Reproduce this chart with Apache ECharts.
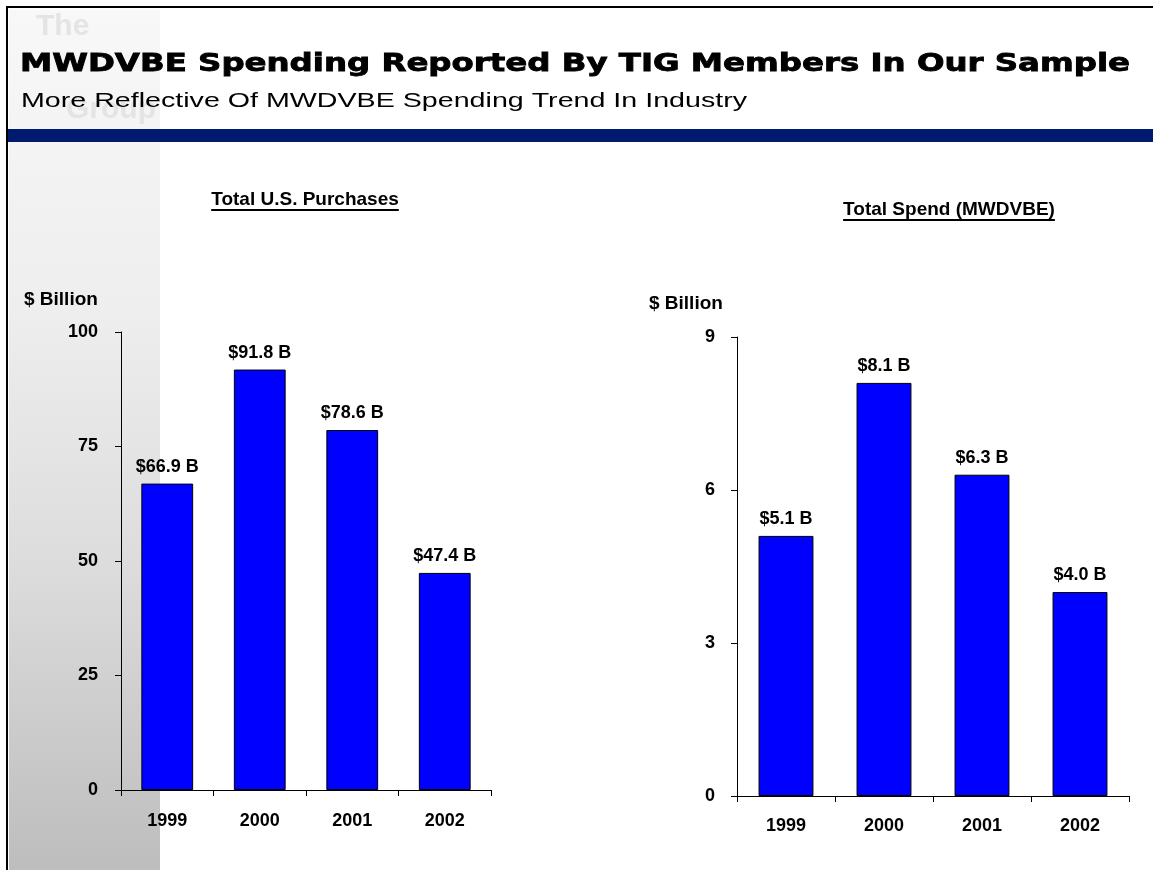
<!DOCTYPE html>
<html>
<head>
<meta charset="utf-8">
<script src="https://cdn.jsdelivr.net/npm/echarts@6/dist/echarts.min.js"></script>
<style>
  html, body { margin: 0; padding: 0; background: #ffffff; }
  #chart { width: 1153px; height: 870px; }
</style>
</head>
<body>
<div id="chart"></div>
<script>
// ---- data ----
const years = ['1999', '2000', '2001', '2002'];
const totalPurchases = [66.9, 91.8, 78.6, 47.4];   // $ billion
const totalSpend = [5.1, 8.1, 6.3, 4.0];          // $ billion (MWDVBE)
const purchaseScale = { min: 0, max: 100, interval: 25 };
const spendScale = { min: 0, max: 9, interval: 3 };

const mainTitle = 'MWDVBE Spending Reported By TIG Members In Our Sample';
const subTitle = 'More Reflective Of MWDVBE Spending Trend In Industry';
const leftTitle = 'Total U.S. Purchases';
const rightTitle = 'Total Spend (MWDVBE)';
const unitLabel = '$ Billion';

// ---- helpers ----
const FONT = '"Liberation Sans", Arial, Helvetica, sans-serif';
const TITLE_FONT = '"DejaVu Sans", "Liberation Sans", Arial, sans-serif';
const LOGO_FONT = 'bold 30px "Liberation Sans Narrow", "Liberation Sans", Arial, sans-serif';
const ctx = document.createElement('canvas').getContext('2d');
function textWidth(str, font) { ctx.font = font; return ctx.measureText(str).width; }

const titleSize = 24, subSize = 20, labelSize = 18, headSize = 19;
const titleScale = 1110 / textWidth(mainTitle, 'bold ' + titleSize + 'px ' + TITLE_FONT);
const subScale = 726 / textWidth(subTitle, subSize + 'px ' + FONT);
const leftTitleW = textWidth(leftTitle, 'bold ' + headSize + 'px ' + FONT);
const rightTitleW = textWidth(rightTitle, 'bold ' + headSize + 'px ' + FONT);

const moneyLabel = p => '$' + p.value.toFixed(1) + ' B';

function barSeries(values, idx) {
  return {
    type: 'bar',
    xAxisIndex: idx,
    yAxisIndex: idx,
    data: values,
    barWidth: '56%',
    itemStyle: { color: '#0000ff', borderColor: '#000000', borderWidth: 1 },
    label: {
      show: true,
      position: 'top',
      distance: 8,
      formatter: moneyLabel,
      color: '#000000',
      fontFamily: FONT,
      fontWeight: 'bold',
      fontSize: labelSize
    },
    emphasis: { disabled: true },
    animation: false
  };
}

function catAxis(idx, margin) {
  return {
    type: 'category',
    gridIndex: idx,
    data: years,
    axisLine: { lineStyle: { color: '#000000', width: 1 } },
    axisTick: { show: true, length: 6, lineStyle: { color: '#000000' } },
    axisLabel: { margin: margin, color: '#000000', fontFamily: FONT, fontWeight: 'bold', fontSize: labelSize }
  };
}

function valAxis(idx, scale, margin) {
  return {
    type: 'value',
    gridIndex: idx,
    min: scale.min,
    max: scale.max,
    interval: scale.interval,
    axisLine: { show: true, lineStyle: { color: '#000000', width: 1 } },
    axisTick: { show: true, length: 6, lineStyle: { color: '#000000' } },
    splitLine: { show: false },
    axisLabel: { margin: margin, color: '#000000', fontFamily: FONT, fontWeight: 'bold', fontSize: labelSize }
  };
}

// text element centred vertically on y
function label(x, y, text, font, align, extra, styleExtra) {
  return Object.assign({
    type: 'text', z: 6, silent: true, x: x, y: y,
    style: Object.assign({ text: text, fill: '#000000', font: font, align: align || 'left', verticalAlign: 'middle' }, styleExtra || {})
  }, extra || {});
}

const chart = echarts.init(document.getElementById('chart'), null, { renderer: 'canvas' });

chart.setOption({
  backgroundColor: '#ffffff',
  animation: false,
  grid: [
    { left: 121, top: 332, width: 370, height: 458 },
    { left: 737, top: 337, width: 392, height: 459 }
  ],
  xAxis: [catAxis(0, 22), catAxis(1, 21)],
  yAxis: [valAxis(0, purchaseScale, 23), valAxis(1, spendScale, 22)],
  series: [barSeries(totalPurchases, 0), barSeries(totalSpend, 1)],
  graphic: [
    // grey side panel
    {
      type: 'rect', z: -10, silent: true,
      shape: { x: 9, y: 10, width: 151, height: 860 },
      style: {
        fill: new echarts.graphic.LinearGradient(0, 0, 0, 1, [
          { offset: 0, color: '#f8f8f8' },
          { offset: 0.35, color: '#eeeeee' },
          { offset: 0.65, color: '#dcdcdc' },
          { offset: 1, color: '#bdbdbd' }
        ])
      }
    },
    // faint logo lettering
    {
      type: 'text', z: -9, silent: true, x: 36, y: 27,
      style: { text: 'The', fill: '#e4e4e4', font: LOGO_FONT, verticalAlign: 'middle' }
    },
    {
      type: 'text', z: -9, silent: true, x: 66, y: 110,
      style: { text: 'Group', fill: '#e4e4e4', font: LOGO_FONT, verticalAlign: 'middle' }
    },
    // frame lines
    {
      type: 'rect', z: 10, silent: true,
      shape: { x: 6, y: 6, width: 1147, height: 2 },
      style: { fill: '#000000' }
    },
    {
      type: 'rect', z: 10, silent: true,
      shape: { x: 6, y: 6, width: 2, height: 864 },
      style: { fill: '#000000' }
    },
    // navy band
    {
      type: 'rect', z: 5, silent: true,
      shape: { x: 8, y: 129, width: 1145, height: 13 },
      style: { fill: '#001a70' }
    },
    // headline
    label(20, 65, mainTitle, 'bold ' + titleSize + 'px ' + TITLE_FONT, 'left', { scaleX: titleScale },
          { stroke: '#000000', lineWidth: 0.8 }),
    label(21, 101, subTitle, subSize + 'px ' + FONT, 'left', { scaleX: subScale }),
    // panel titles with underline
    label(305, 200, leftTitle, 'bold ' + headSize + 'px ' + FONT, 'center'),
    {
      type: 'rect', z: 6, silent: true,
      shape: { x: 305 - leftTitleW / 2, y: 209, width: leftTitleW, height: 2 },
      style: { fill: '#000000' }
    },
    label(949, 209.5, rightTitle, 'bold ' + headSize + 'px ' + FONT, 'center'),
    {
      type: 'rect', z: 6, silent: true,
      shape: { x: 949 - rightTitleW / 2, y: 219, width: rightTitleW, height: 2 },
      style: { fill: '#000000' }
    },
    // unit labels
    label(24, 300, unitLabel, 'bold ' + headSize + 'px ' + FONT, 'left'),
    label(649, 304, unitLabel, 'bold ' + headSize + 'px ' + FONT, 'left')
  ]
});
</script>
</body>
</html>
